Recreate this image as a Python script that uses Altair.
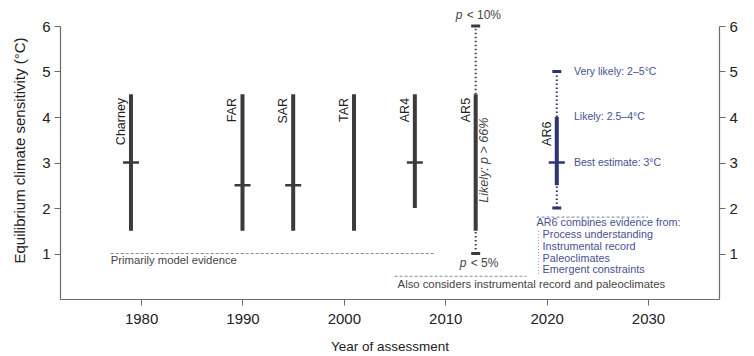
import altair as alt
import pandas as pd

FONT = "Liberation Sans, Arial, sans-serif"
GREY = "#3b3b3b"
NAVY = "#2c3376"
NAVY_TXT = "#4a5090"

# Assessments
names = ["Charney", "FAR", "SAR", "TAR", "AR4", "AR5"]
years = [1979, 1990, 1995, 2001, 2007, 2013]
likely_low = [1.5, 1.5, 1.5, 1.5, 2.0, 1.5]
likely_high = [4.5, 4.5, 4.5, 4.5, 4.5, 4.5]
best_years = [1979, 1990, 1995, 2007]
best_vals = [3.0, 2.5, 2.5, 3.0]

# AR5 extended range
ar5_year = 2013
ar5_tail_low = [1.0, 4.5]
ar5_tail_high = [1.5, 6.0]
ar5_caps = [1.0, 6.0]

# AR6
ar6_year = 2021
ar6_likely = [2.5, 4.0]
ar6_very_low = [2.0, 4.0]
ar6_very_high = [2.5, 5.0]
ar6_caps = [2.0, 5.0]
ar6_best = 3.0
ar6_notes = ["Very likely: 2\u20135\u00b0C", "Likely: 2.5\u20134\u00b0C", "Best estimate: 3\u00b0C"]
ar6_note_y = [5.0, 4.0, 3.0]
ar6_note_x = 2022.7

# Evidence annotations
ev_lines_x1 = [1977, 2005, 2019]
ev_lines_x2 = [2009, 2018, 2030]
ev_lines_y = [1.0, 0.5, 1.8]
ev_text = ["Primarily model evidence", "Also considers instrumental record and paleoclimates"]
ev_text_x = [1977, 2005.3]
ev_text_y = [0.83, 0.31]
ar6_list = ["AR6 combines evidence from:", "Process understanding", "Instrumental record",
            "Paleoclimates", "Emergent constraints"]
ar6_list_x = [2019, 2019.6, 2019.6, 2019.6, 2019.6]
ar6_list_y = [1.66, 1.40, 1.14, 0.89, 0.63]

p_rest = ["< 10%", "< 5%"]
p_y = [6.24, 0.8]
p_dx_p = [-20, -16]
p_dx_rest = [-9, -5]

xs = alt.Scale(domain=[1972, 2037], nice=False, zero=False)
ys = alt.Scale(domain=[0, 6], nice=False, zero=False)

bars_df = pd.DataFrame({"name": names, "year": years, "lo": likely_low, "hi": likely_high})
best_df = pd.DataFrame({"year": best_years, "v": best_vals})

X = alt.X("year:Q", scale=xs, axis=alt.Axis(values=[1980, 1990, 2000, 2010, 2020, 2030], format="d",
                                            title="Year of assessment", titleFontSize=13.5,
                                            titlePadding=13))

bars = alt.Chart(bars_df).mark_rule(color=GREY, strokeWidth=4, strokeCap="butt").encode(
    x=X,
    y=alt.Y("lo:Q", scale=ys, axis=alt.Axis(values=[1, 2, 3, 4, 5, 6],
                                            title="Equilibrium climate sensitivity (\u00b0C)",
                                            titleFontSize=15, titleX=-41, titleY=124,
                                            titleAlign="center", titleBaseline="middle")),
    y2="hi:Q",
)

best = alt.Chart(best_df).mark_tick(color=GREY, opacity=1, orient="horizontal", size=16, thickness=2.5).encode(
    x=alt.X("year:Q", scale=xs), y=alt.Y("v:Q", scale=ys)
)

labels = alt.Chart(bars_df).mark_text(angle=270, align="right", baseline="alphabetic", dy=-6,
                                      fontSize=12.5, font=FONT, color="#222222").encode(
    x=alt.X("year:Q", scale=xs), y=alt.datum(4.42), text="name:N"
)

ar5_tail = alt.Chart(pd.DataFrame({"year": [ar5_year] * 2, "lo": ar5_tail_low, "hi": ar5_tail_high})).mark_rule(
    color=GREY, strokeWidth=2, strokeDash=[1.5, 2.5]).encode(
    x=alt.X("year:Q", scale=xs), y=alt.Y("lo:Q", scale=ys), y2="hi:Q")
ar5_cap = alt.Chart(pd.DataFrame({"year": [ar5_year] * 2, "v": ar5_caps})).mark_tick(
    color=GREY, opacity=1, orient="horizontal", size=9, thickness=3).encode(
    x=alt.X("year:Q", scale=xs), y=alt.Y("v:Q", scale=ys))

p_df = pd.DataFrame({"rest": p_rest, "y": p_y, "p": ["p", "p"]})
ar5_p1 = alt.Chart(p_df.iloc[[0]]).mark_text(
    fontSize=12, font=FONT, color="#444444", fontStyle="italic", align="left", dx=p_dx_p[0]).encode(
    x=alt.datum(ar5_year), y=alt.Y("y:Q", scale=ys), text="p:N")
ar5_p2 = alt.Chart(p_df.iloc[[1]]).mark_text(
    fontSize=12, font=FONT, color="#444444", fontStyle="italic", align="left", dx=p_dx_p[1]).encode(
    x=alt.datum(ar5_year), y=alt.Y("y:Q", scale=ys), text="p:N")
ar5_r1 = alt.Chart(p_df.iloc[[0]]).mark_text(
    fontSize=12, font=FONT, color="#444444", align="left", dx=p_dx_rest[0]).encode(
    x=alt.datum(ar5_year), y=alt.Y("y:Q", scale=ys), text="rest:N")
ar5_r2 = alt.Chart(p_df.iloc[[1]]).mark_text(
    fontSize=12, font=FONT, color="#444444", align="left", dx=p_dx_rest[1]).encode(
    x=alt.datum(ar5_year), y=alt.Y("y:Q", scale=ys), text="rest:N")
ar5_likely = alt.Chart(pd.DataFrame({"t": ["Likely: p > 66%"]})).mark_text(
    angle=270, align="center", baseline="alphabetic", dy=12, fontSize=12.5, font=FONT,
    color="#444444", fontStyle="italic").encode(
    x=alt.datum(ar5_year), y=alt.datum(3.05), text="t:N")

ar6_very = alt.Chart(pd.DataFrame({"year": [ar6_year] * 2, "lo": ar6_very_low, "hi": ar6_very_high})).mark_rule(
    color=NAVY, strokeWidth=2, strokeDash=[1.5, 2.5]).encode(
    x=alt.X("year:Q", scale=xs), y=alt.Y("lo:Q", scale=ys), y2="hi:Q")
ar6_bar = alt.Chart(pd.DataFrame({"year": [ar6_year], "lo": [ar6_likely[0]], "hi": [ar6_likely[1]]})).mark_rule(
    color=NAVY, strokeWidth=4, strokeCap="butt").encode(
    x=alt.X("year:Q", scale=xs), y=alt.Y("lo:Q", scale=ys), y2="hi:Q")
ar6_cap = alt.Chart(pd.DataFrame({"year": [ar6_year] * 2, "v": ar6_caps})).mark_tick(
    color=NAVY, opacity=1, orient="horizontal", size=9, thickness=3).encode(
    x=alt.X("year:Q", scale=xs), y=alt.Y("v:Q", scale=ys))
ar6_bst = alt.Chart(pd.DataFrame({"year": [ar6_year], "v": [ar6_best]})).mark_tick(
    color=NAVY, opacity=1, orient="horizontal", size=16, thickness=2.5).encode(
    x=alt.X("year:Q", scale=xs), y=alt.Y("v:Q", scale=ys))
ar6_lab = alt.Chart(pd.DataFrame({"t": ["AR6"]})).mark_text(
    angle=270, align="right", baseline="alphabetic", dy=-6, fontSize=12.5, font=FONT,
    color="#222222").encode(x=alt.datum(ar6_year), y=alt.datum(3.9), text="t:N")
ar6_n = alt.Chart(pd.DataFrame({"t": ar6_notes, "y": ar6_note_y})).mark_text(
    align="left", baseline="middle", fontSize=10.5, font=FONT, color=NAVY_TXT).encode(
    x=alt.datum(ar6_note_x), y=alt.Y("y:Q", scale=ys), text="t:N")

ev_lines = alt.Chart(pd.DataFrame({"x1": ev_lines_x1, "x2": ev_lines_x2, "y": ev_lines_y,
                                   "c": ["g", "g", "n"]})).mark_rule(
    strokeWidth=1, strokeDash=[3, 2]).encode(
    x=alt.X("x1:Q", scale=xs), x2="x2:Q", y=alt.Y("y:Q", scale=ys),
    color=alt.Color("c:N", scale=alt.Scale(domain=["g", "n"], range=["#8a8a8a", "#7a7fa8"]), legend=None))
ev_t = alt.Chart(pd.DataFrame({"t": ev_text, "x": ev_text_x, "y": ev_text_y})).mark_text(
    align="left", baseline="middle", fontSize=11.3, font=FONT, color="#444444").encode(
    x=alt.X("x:Q", scale=xs), y=alt.Y("y:Q", scale=ys), text="t:N")
ar6_l = alt.Chart(pd.DataFrame({"t": ar6_list, "x": ar6_list_x, "y": ar6_list_y})).mark_text(
    align="left", baseline="middle", fontSize=10.8, font=FONT, color=NAVY_TXT).encode(
    x=alt.X("x:Q", scale=xs), y=alt.Y("y:Q", scale=ys), text="t:N")
ar6_dots = alt.Chart(pd.DataFrame({"x": [2019.2], "y1": [0.55], "y2": [1.5]})).mark_rule(
    color="#9a9dc0", strokeWidth=1, strokeDash=[1, 2]).encode(
    x=alt.X("x:Q", scale=xs), y=alt.Y("y1:Q", scale=ys), y2="y2:Q")

right_axis = alt.Chart(pd.DataFrame({"v": [1.0]})).mark_point(opacity=0).encode(
    y=alt.Y("v:Q", scale=ys, axis=alt.Axis(orient="right", values=[1, 2, 3, 4, 5, 6], title=None)),
)

left = alt.layer(bars, best, labels, ar5_tail, ar5_cap, ar5_p1, ar5_p2, ar5_r1, ar5_r2, ar5_likely,
                 ar6_very, ar6_bar, ar6_cap, ar6_bst, ar6_lab, ar6_n,
                 ev_lines, ev_t, ar6_l, ar6_dots)

chart = alt.layer(left, right_axis).resolve_axis(y="independent").properties(
    width=659, height=273,
    autosize=alt.AutoSizeParams(type="none"),
    padding={"left": 60, "top": 26, "right": 35, "bottom": 57},
    background="white",
).configure_view(stroke=None).configure_axis(
    grid=False, domainColor="#6b6b6b", tickColor="#6b6b6b", domainWidth=1.2,
    tickSize=6, labelFontSize=15, labelFont=FONT, titleFont=FONT, labelColor="#222222",
    titleColor="#222222", labelPadding=4, titleFontWeight="normal",
).configure_axisX(labelPadding=6)

chart.save("out.html", embed_options={"renderer": "svg", "actions": False})
